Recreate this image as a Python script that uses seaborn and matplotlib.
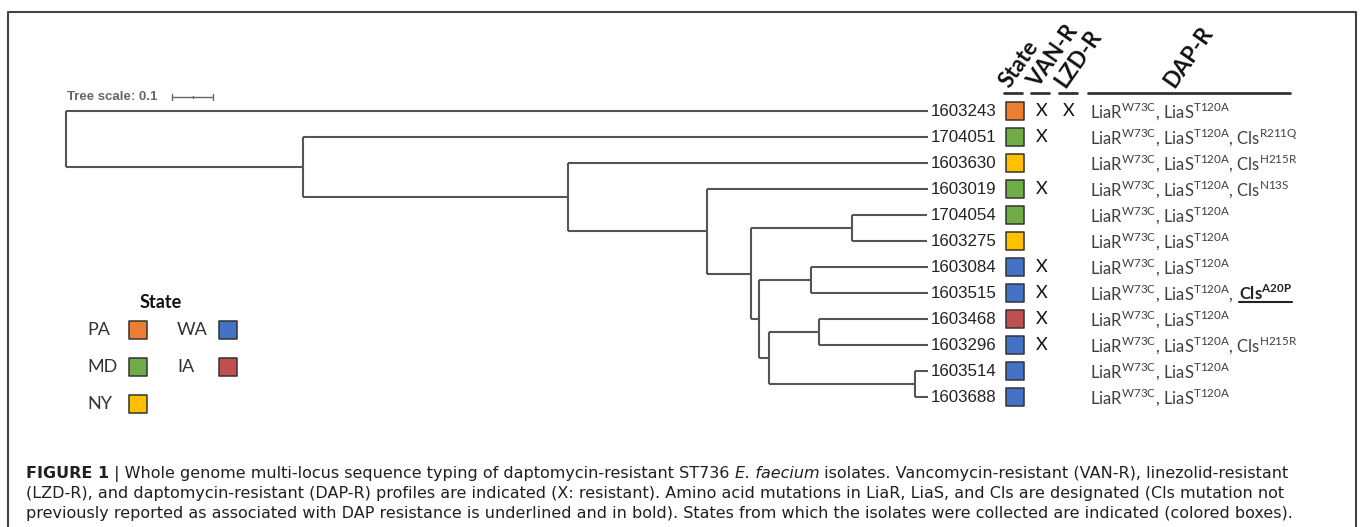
import numpy as np
import pandas as pd
import matplotlib
matplotlib.use("Agg")
import matplotlib.pyplot as plt
import seaborn as sns

# Tree data: leaves in plotting order, edges as child/parent/branch length
leaves = ["1603243", "1704051", "1603630", "1603019", "1704054", "1603275",
          "1603084", "1603515", "1603468", "1603296", "1603514", "1603688"]
edge_child = ["1603243", "A", "1704051", "B", "1603630", "C", "1603019", "D",
              "E", "1704054", "1603275", "F", "G", "1603084", "1603515", "H",
              "I", "1603468", "1603296", "J", "1603514", "1603688"]
edge_parent = ["root", "root", "A", "A", "B", "B", "C", "C",
               "D", "E", "E", "D", "F", "G", "G", "F",
               "H", "I", "I", "H", "J", "J"]
edge_len = [2.102, 0.578, 1.524, 0.646, 0.878, 0.339, 0.539, 0.107,
            0.246, 0.185, 0.185, 0.020, 0.127, 0.285, 0.285, 0.024,
            0.122, 0.266, 0.266, 0.356, 0.032, 0.032]

# Annotation columns
state = ["PA", "MD", "NY", "MD", "MD", "NY", "WA", "WA", "IA", "WA", "WA", "WA"]
van_r = [1, 1, 0, 1, 0, 0, 1, 1, 1, 1, 0, 0]
lzd_r = [1, 0, 0, 0, 0, 0, 0, 0, 0, 0, 0, 0]
cls_mut = ["", "R211Q", "H215R", "N13S", "", "", "", "A20P", "", "H215R", "", ""]
novel_cls = [0, 0, 0, 0, 0, 0, 0, 1, 0, 0, 0, 0]

state_colors = {"PA": "#ED7D31", "MD": "#70AD47", "NY": "#FFC000",
                "WA": "#4472C4", "IA": "#C0504D"}
legend_states = ["PA", "WA", "MD", "IA", "NY"]

tree_scale = 0.1

sns.set_theme(style="white")
plt.rcParams["font.family"] = ["Liberation Sans", "DejaVu Sans"]
plt.rcParams["mathtext.fontset"] = "custom"
plt.rcParams["mathtext.rm"] = "Lato"
plt.rcParams["mathtext.bf"] = "Lato:bold"

W, H = 1368, 527
fig = plt.figure(figsize=(W / 100, H / 100), dpi=100)
ax = fig.add_axes([0, 0, 1, 1])
X0, XS, Y0, YS = 66, 410.0, 111, 26.0
ax.set_xlim(-X0 / XS, (W - X0) / XS)
ax.set_ylim((H - Y0) / YS, -Y0 / YS)
ax.axis("off")


def P(px, py):
    return (px - X0) / XS, (py - Y0) / YS


# build tree coordinates
children = {}
for c, p, l in zip(edge_child, edge_parent, edge_len):
    children.setdefault(p, []).append((c, l))
xpos, ypos = {"root": 0.0}, {}


def place(node):
    for c, l in children.get(node, []):
        xpos[c] = xpos[node] + l
        place(c)
    if node in leaves:
        ypos[node] = leaves.index(node)
    else:
        ys = [ypos[c] for c, _ in children[node]]
        ypos[node] = (min(ys) + max(ys)) / 2


place("root")
tree_col = "#555555"
for node, kids in children.items():
    ys = [ypos[c] for c, _ in kids]
    ax.plot([xpos[node]] * 2, [min(ys), max(ys)], color=tree_col, lw=1.5,
            solid_capstyle="butt")
    for c, _ in kids:
        ax.plot([xpos[node], xpos[c]], [ypos[c]] * 2, color=tree_col, lw=1.5,
                solid_capstyle="butt")

# tree scale
sx, sy = P(172, 97)
ax.text(*P(67, 97), "Tree scale: 0.1", fontsize=9.5, fontweight="bold",
        color="#666666", va="center", ha="left")
ax.plot([sx, sx + tree_scale], [sy, sy], color="#666666", lw=1)
for t in [sx, sx + tree_scale / 2, sx + tree_scale]:
    h = 0.1 if t != sx + tree_scale / 2 else 0.05
    ax.plot([t, t], [sy - h, sy + h], color="#666666", lw=1)

df = pd.DataFrame({"leaf": leaves, "state": state, "y": range(len(leaves))})

# labels
for i, name in enumerate(leaves):
    ax.text(P(931, 0)[0], i, name, fontsize=12.2, color="#222222",
            va="center", ha="left")

# state squares
df["x"] = P(1015, 0)[0]
sns.scatterplot(data=df, x="x", y="y", hue="state", palette=state_colors,
                marker="s", s=150, edgecolor="#333333", linewidth=1.1,
                legend=False, ax=ax, zorder=3)

# resistance X marks
xfont = dict(fontsize=13, color="#111111", va="center", ha="center",
             family=["Lato", "DejaVu Sans"])
for i in range(len(leaves)):
    if van_r[i]:
        ax.text(P(1042, 0)[0], i, "X", **xfont)
    if lzd_r[i]:
        ax.text(P(1069, 0)[0], i, "X", **xfont)

# DAP-R column
fig.canvas.draw()
renderer = fig.canvas.get_renderer()
dfont = dict(fontsize=12, color="#404040", va="center", ha="left",
             family=["Lato", "DejaVu Sans"])
for i in range(len(leaves)):
    base = r"LiaR$^\mathrm{W73C}$, LiaS$^\mathrm{T120A}$"
    if cls_mut[i] and not novel_cls[i]:
        base += r", Cls$^\mathrm{%s}$" % cls_mut[i]
    elif novel_cls[i]:
        base += ","
    t = ax.text(P(1090, 0)[0], i, base, **dfont)
    if novel_cls[i]:
        bb = t.get_window_extent(renderer)
        xd = ax.transData.inverted().transform((bb.x1 + 5, 0))[0]
        t2 = ax.text(xd, i, r"Cls$^\mathbf{%s}$" % cls_mut[i], fontweight="bold",
                     **{**dfont, "color": "#222222"})
        bb2 = t2.get_window_extent(renderer)
        x_a = ax.transData.inverted().transform((bb2.x0, 0))[0]
        x_b = ax.transData.inverted().transform((bb2.x1, 0))[0]
        ax.plot([x_a, x_b], [i + 0.33] * 2, color="#222222", lw=1.5)

# column headers
hfont = dict(fontsize=16, fontweight="bold", color="#111111", rotation=55,
             rotation_mode="anchor", ha="left", va="baseline",
             family=["Lato", "DejaVu Sans"])
for label, hx in [("State", 1010), ("VAN-R", 1038), ("LZD-R", 1065),
                  ("DAP-R", 1174)]:
    ax.text(*P(hx, 89), label, **hfont)
for a, b in [(1004, 1022), (1031, 1049), (1059, 1077), (1088, 1290)]:
    ax.plot([P(a, 0)[0], P(b, 0)[0]], [P(0, 93)[1]] * 2, color="#333333", lw=2)

# legend
lfont = dict(fontsize=13, color="#333333", va="center", ha="left",
             family=["Lato", "DejaVu Sans"])
ax.text(*P(161, 303), "State", fontsize=13, fontweight="bold", color="#111111",
        va="center", ha="center", family=["Lato", "DejaVu Sans"])
leg_pos = [(87, 330), (177, 330), (87, 367), (177, 367), (87, 404)]
leg_df = pd.DataFrame({"state": legend_states,
                       "x": [P(px + 51, py)[0] for px, py in leg_pos],
                       "y": [P(px, py)[1] for px, py in leg_pos]})
for s, (px, py) in zip(legend_states, leg_pos):
    ax.text(*P(px, py), s, **lfont)
sns.scatterplot(data=leg_df, x="x", y="y", hue="state", palette=state_colors,
                marker="s", s=150, edgecolor="#333333", linewidth=1.1,
                legend=False, ax=ax, zorder=3)

# frame
fr = [P(8, H + 5), P(8, 12), P(1356, 12), P(1356, H + 5)]
ax.plot([p[0] for p in fr], [p[1] for p in fr], color="#444444", lw=1.5)

# caption
cfont = dict(fontsize=11.5, color="#231f20", va="baseline", ha="left",
             family=["DejaVu Sans"])
lines = [
    [("FIGURE 1", "bold", "normal"), (" | Whole genome multi-locus sequence typing of daptomycin-resistant ST736 ", "normal", "normal"),
     ("E. faecium", "normal", "italic"),
     (" isolates. Vancomycin-resistant (VAN-R), linezolid-resistant", "normal", "normal")],
    [("(LZD-R), and daptomycin-resistant (DAP-R) profiles are indicated (X: resistant). Amino acid mutations in LiaR, LiaS, and Cls are designated (Cls mutation not", "normal", "normal")],
    [("previously reported as associated with DAP resistance is underlined and in bold). States from which the isolates were collected are indicated (colored boxes).", "normal", "normal")],
]
for k, runs in enumerate(lines):
    cx = 26
    for txt, wt, st in runs:
        t = ax.text(*P(cx, 478 + 20 * k), txt, fontweight=wt, fontstyle=st, **cfont)
        bb = t.get_window_extent(renderer)
        cx = bb.x1

fig.savefig("out.png", dpi=100)
